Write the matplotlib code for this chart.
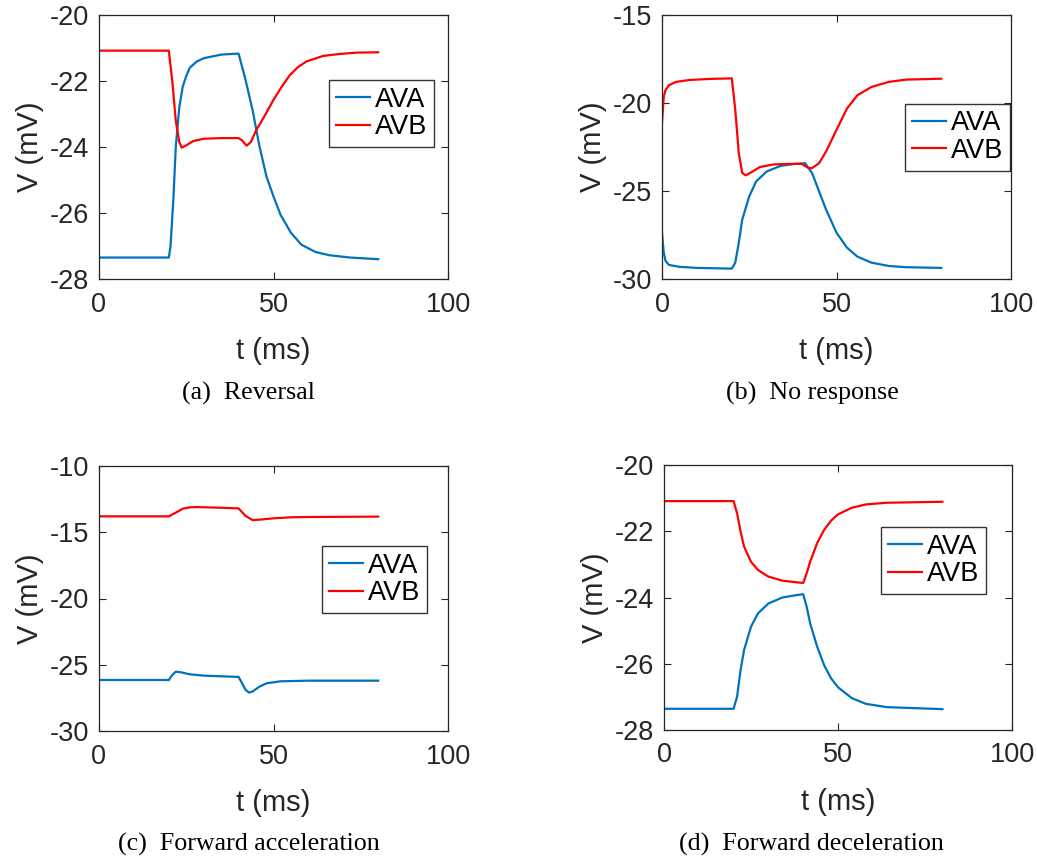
import matplotlib
matplotlib.use("Agg")
import matplotlib.pyplot as plt

plt.rcParams['font.family'] = ['Liberation Sans', 'DejaVu Sans']
plt.rcParams['axes.unicode_minus'] = False

# (a) Reversal
t_a_ava = [0, 20, 20.5, 21.3, 22, 23, 24, 25, 26, 28, 30, 35, 40, 42, 44, 46, 48, 50, 52, 55, 58, 62, 66, 72, 80]
v_a_ava = [-27.35, -27.35, -27.0, -25.6, -24.0, -22.8, -22.17, -21.85, -21.6, -21.41, -21.31, -21.2, -21.17,
           -21.97, -22.88, -23.99, -24.9, -25.5, -26.05, -26.6, -26.96, -27.18, -27.28, -27.35, -27.4]
t_a_avb = [0, 20, 21, 22, 23, 23.7, 25, 27, 30, 35, 40, 41, 42.3, 43.5, 45.1, 47.5, 50, 52.5, 54.7, 57, 59.4, 64.2, 69, 73.8, 80]
v_a_avb = [-21.08, -21.08, -22.0, -23.2, -23.85, -24.02, -23.95, -23.82, -23.75, -23.73, -23.73, -23.8,
           -23.96, -23.85, -23.48, -23.05, -22.57, -22.15, -21.82, -21.58, -21.41, -21.24, -21.18, -21.14, -21.13]

# (b) No response
t_b_ava = [0, 0.5, 1, 2, 5, 10, 20, 21, 22, 23, 25, 27, 30, 34, 38, 41, 43, 45, 47, 50, 53, 56, 60, 65, 70, 80]
v_b_ava = [-27.37, -28.5, -28.97, -29.2, -29.31, -29.37, -29.41, -29.07, -27.94, -26.62, -25.3, -24.45,
           -23.89, -23.57, -23.46, -23.42, -23.98, -25.02, -26.05, -27.37, -28.22, -28.73, -29.07, -29.26, -29.33, -29.37]
t_b_avb = [0, 0.5, 1, 2, 4, 8, 14, 20, 21, 22, 23, 24, 26, 28, 32, 36, 40, 42, 43, 45, 47, 50, 53, 56, 60, 65, 70, 80]
v_b_avb = [-21.12, -19.65, -19.27, -18.99, -18.8, -18.69, -18.63, -18.6, -20.4, -22.85, -23.98, -24.11,
           -23.89, -23.64, -23.49, -23.46, -23.46, -23.7, -23.7, -23.42, -22.76, -21.53, -20.31, -19.56,
           -19.09, -18.8, -18.67, -18.62]

# (c) Forward acceleration
t_c_ava = [0, 20, 21, 22, 23.5, 26, 30, 35, 40, 41, 42, 43, 44, 46, 48, 52, 60, 80]
v_c_ava = [-26.15, -26.15, -25.77, -25.52, -25.57, -25.72, -25.82, -25.87, -25.92, -26.4, -26.9, -27.1,
           -27.02, -26.65, -26.4, -26.25, -26.2, -26.2]
t_c_avb = [0, 20, 22, 24, 26, 28, 35, 40, 42, 44, 46, 50, 55, 60, 80]
v_c_avb = [-13.8, -13.8, -13.52, -13.22, -13.12, -13.1, -13.15, -13.2, -13.77, -14.08, -14.05, -13.95,
           -13.87, -13.85, -13.82]

# (d) Forward deceleration
t_d_ava = [0, 20, 21, 22, 23, 25, 27, 30, 34, 38, 40, 41, 42, 44, 46, 48, 50, 54, 58, 64, 80]
v_d_ava = [-27.36, -27.36, -26.99, -26.19, -25.59, -24.88, -24.48, -24.18, -24.0, -23.93, -23.9, -24.28,
           -24.78, -25.48, -26.04, -26.44, -26.71, -27.04, -27.21, -27.31, -27.37]
t_d_avb = [0, 20, 21, 22, 23, 25, 27, 30, 34, 38, 40, 41, 42, 44, 46, 48, 50, 54, 58, 64, 80]
v_d_avb = [-21.09, -21.09, -21.46, -22.01, -22.46, -22.92, -23.17, -23.37, -23.49, -23.54, -23.56, -23.27,
           -22.92, -22.36, -21.96, -21.68, -21.49, -21.29, -21.19, -21.14, -21.11]

captions = ['(a)  Reversal', '(b)  No response', '(c)  Forward acceleration', '(d)  Forward deceleration']
ylims = [(-28, -20), (-30, -15), (-30, -10), (-28, -20)]
yticks = [[-28, -26, -24, -22, -20], [-30, -25, -20, -15], [-30, -25, -20, -15, -10], [-28, -26, -24, -22, -20]]
series = [(t_a_ava, v_a_ava, t_a_avb, v_a_avb), (t_b_ava, v_b_ava, t_b_avb, v_b_avb),
          (t_c_ava, v_c_ava, t_c_avb, v_c_avb), (t_d_ava, v_d_ava, t_d_avb, v_d_avb)]

W, H = 1037, 864
boxes = [(99, 15, 448, 279), (662, 15, 1011, 279), (99, 466, 448, 731), (664, 465, 1012, 730)]
legpos = [(0.659, 0.754), (0.696, 0.664), (0.639, 0.698), (0.624, 0.766)]
capx = [249, 812, 248.5, 811]
capy = [393, 393, 844, 844]
dark = '#262626'

fig = plt.figure(figsize=(W / 100, H / 100), dpi=100)
for i in range(4):
    x0, y0, x1, y1 = boxes[i]
    ax = fig.add_axes([x0 / W, 1 - y1 / H, (x1 - x0) / W, (y1 - y0) / H])
    ta, va, tb, vb = series[i]
    ax.plot(ta, va, color='#0072BD', lw=1.6, label='AVA')
    ax.plot(tb, vb, color='#FF0000', lw=1.6, label='AVB')
    ax.set_xlim(0, 100)
    ax.set_ylim(*ylims[i])
    ax.set_xticks([0, 50, 100])
    ax.set_yticks(yticks[i])
    ax.tick_params(direction='in', top=True, right=True, labelsize=19.5, length=5,
                   color=dark, labelcolor=dark)
    ax.tick_params(axis='x', pad=9)
    ax.tick_params(axis='y', pad=7)
    for s in ax.spines.values():
        s.set_color(dark)
        s.set_linewidth(0.9)
    ax.set_xlabel('t (ms)', fontsize=21, labelpad=14, color=dark)
    ax.set_ylabel('V (mV)', fontsize=21, labelpad=4, color=dark)
    leg = ax.legend(loc='upper left', bbox_to_anchor=legpos[i], fontsize=19.5, frameon=True,
                    fancybox=False, edgecolor='black', borderaxespad=0, handlelength=1.25,
                    handletextpad=0.2, borderpad=0.25, labelspacing=0.05)
    leg.get_frame().set_linewidth(1.0)
    fig.text(capx[i] / W, 1 - capy[i] / H, captions[i], ha='center', va='center',
             fontsize=18.7, family='Liberation Serif')

fig.savefig('out.png', dpi=100)
